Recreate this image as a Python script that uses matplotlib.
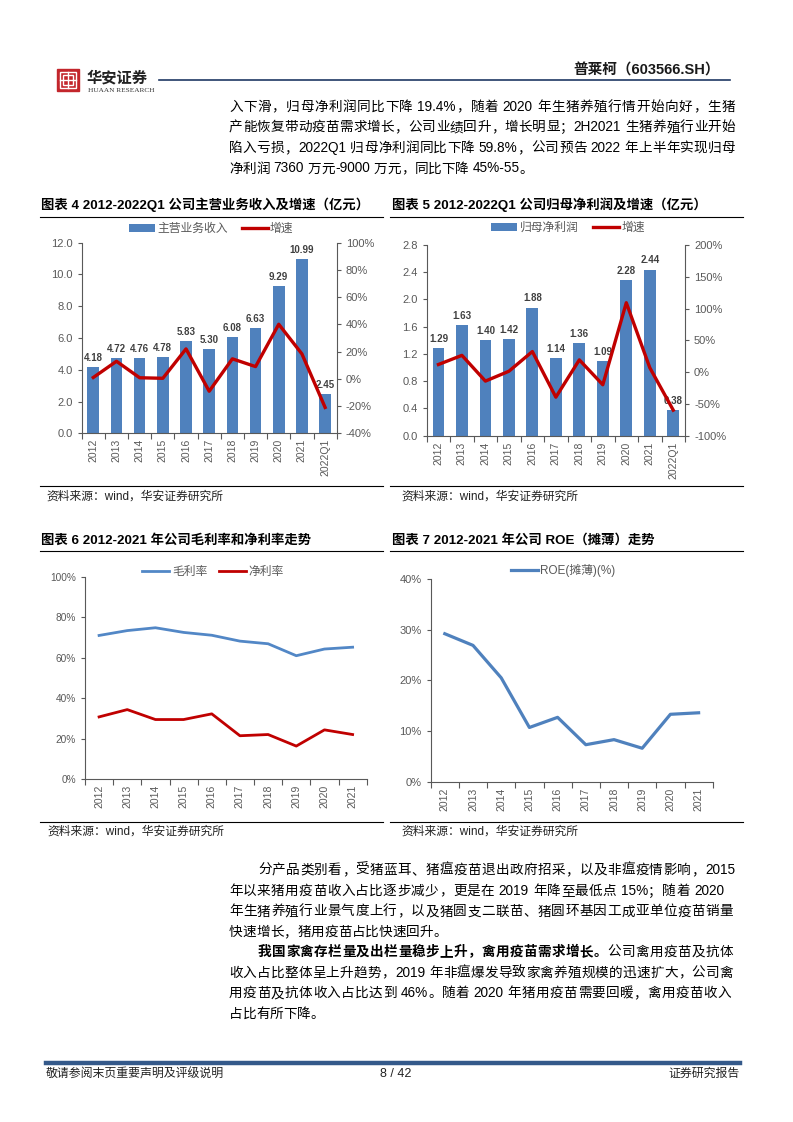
import re
import numpy as np
import matplotlib
matplotlib.use('Agg')
from matplotlib import pyplot as plt
from matplotlib.lines import Line2D
from matplotlib.patches import Rectangle
from matplotlib.ticker import FuncFormatter, FixedLocator

plt.rcParams['font.family'] = ['Liberation Sans', 'Noto Sans CJK SC']
plt.rcParams['axes.unicode_minus'] = False

# datos
years_q = ['2012', '2013', '2014', '2015', '2016', '2017', '2018', '2019', '2020', '2021', '2022Q1']
years = years_q[:-1]
revenue = [4.18, 4.72, 4.76, 4.78, 5.83, 5.30, 6.08, 6.63, 9.29, 10.99, 2.45]
revenue_growth = [1.0, 12.9, 0.8, 0.4, 22.0, -9.1, 14.7, 9.0, 40.1, 18.3, -21.0]
profit = [1.29, 1.63, 1.40, 1.42, 1.88, 1.14, 1.36, 1.09, 2.28, 2.44, 0.38]
profit_growth = [12.0, 26.4, -14.1, 1.4, 32.4, -39.4, 19.3, -19.9, 109.2, 7.0, -59.8]
gross_margin = [71.0, 73.4, 74.8, 72.5, 71.1, 68.2, 66.9, 61.0, 64.3, 65.2]
net_margin = [30.8, 34.4, 29.5, 29.5, 32.3, 21.5, 22.1, 16.4, 24.4, 22.1]
roe = [29.2, 26.9, 20.5, 10.7, 12.7, 7.3, 8.3, 6.6, 13.3, 13.6]

BLUE = '#4F81BD'
RED = '#C00000'
GRAY = '#595959'
W, H = 793, 1122
FS = 9.8

fig = plt.figure(figsize=(W / 100, H / 100), dpi=100)
renderer = fig.canvas.get_renderer()


def fx(x):
    return x / W


def fy(y):
    return 1 - y / H


def axes_px(l, t, r, b):
    return fig.add_axes([l / W, 1 - b / H, (r - l) / W, (b - t) / H])


def hline(x0, x1, y, lw=0.8, color='black'):
    fig.add_artist(Line2D([fx(x0), fx(x1)], [fy(y), fy(y)], transform=fig.transFigure,
                          lw=lw, color=color))


def txt(x, y, s, **kw):
    kw.setdefault('va', 'center')
    kw.setdefault('fontsize', FS)
    return fig.text(fx(x), fy(y), s, **kw)


def measure(s, weight='normal'):
    t = fig.text(0, 0, s, fontsize=FS, fontweight=weight)
    w = t.get_window_extent(renderer).width
    t.remove()
    return w


def para_line(x0, y, segments, target=None):
    # segments: lista de (texto, peso); si hay target se justifica la linea
    bar = measure('|')
    items = []
    offset = 0.0
    for s, wt in segments:
        for m in re.finditer(r'[A-Za-z0-9.%\-]+|\S', s):
            pos = measure(s[:m.start()] + '|', wt) - bar if m.start() > 0 else 0.0
            items.append((offset + pos, m.group(), wt))
        offset += measure(s + '|', wt) - bar
    gap = 0.0
    if target is not None and len(items) > 1:
        gap = (target - x0 - offset) / (len(items) - 1)
    for i, (pos, tok, wt) in enumerate(items):
        txt(x0 + pos + i * gap, y, tok, fontweight=wt)


def style_cat_axis(ax, labels):
    n = len(labels)
    ax.set_xlim(-0.5, n - 0.5)
    ax.set_xticks(range(n))
    ax.set_xticklabels(labels, rotation=90, fontsize=7.5, color=GRAY)
    ax.xaxis.set_minor_locator(FixedLocator(np.arange(-0.5, n, 1.0)))
    ax.tick_params(axis='x', which='major', length=0, pad=4)
    ax.tick_params(axis='x', which='minor', length=4, color=GRAY, width=0.8)
    for s in ['top', 'right']:
        ax.spines[s].set_visible(False)
    for s in ['left', 'bottom']:
        ax.spines[s].set_color(GRAY)
        ax.spines[s].set_linewidth(0.8)
    ax.tick_params(axis='y', length=3, color=GRAY, width=0.8, labelsize=8, labelcolor=GRAY)


pct = FuncFormatter(lambda v, p: f'{v:.0f}%')

# ---------- cabecera ----------
fig.add_artist(Rectangle((fx(57), fy(91)), 22 / W, 22 / H, transform=fig.transFigure,
                         color='#C3262C'))
fig.add_artist(Rectangle((fx(60), fy(88)), 16 / W, 16 / H, transform=fig.transFigure,
                         fill=False, ec='white', lw=1.0))
fig.add_artist(Rectangle((fx(63), fy(85)), 10 / W, 10 / H, transform=fig.transFigure,
                         fill=False, ec='white', lw=1.0))
fig.add_artist(Line2D([fx(68), fx(68)], [fy(72), fy(88)], transform=fig.transFigure, color='white', lw=1))
fig.add_artist(Line2D([fx(60), fx(76)], [fy(80), fy(80)], transform=fig.transFigure, color='white', lw=1))
txt(87, 77, '华安证券', fontsize=11, fontweight='bold', family='Noto Sans CJK SC', color='#222222')
txt(88, 91, 'HUAAN RESEARCH', fontsize=5.2, family='Liberation Serif', color='#333333')
hline(159, 730, 80, lw=1.2, color='#1F3864')
txt(720, 70, '普莱柯（603566.SH）', fontsize=10.5, fontweight='bold', ha='right', color='#1a1a1a')

para1 = ['入下滑，归母净利润同比下降 19.4%，随着 2020 年生猪养殖行情开始向好，生猪',
         '产能恢复带动疫苗需求增长，公司业绩回升，增长明显；2H2021 生猪养殖行业开始',
         '陷入亏损，2022Q1 归母净利润同比下降 59.8%，公司预告 2022 年上半年实现归母',
         '净利润 7360 万元-9000 万元，同比下降 45%-55。']
para1_end = [735, 735, 735, None]
for i, line in enumerate(para1):
    para_line(229, 106.7 + i * 20.6, [(line, 'normal')], para1_end[i])

# ---------- grafico 4 ----------
x = np.arange(len(years_q))
txt(41, 205, '图表 4 2012-2022Q1 公司主营业务收入及增速（亿元）', fontsize=9.6, fontweight='bold')
hline(40, 383, 216.5)
hline(40, 383, 486)
txt(46, 497, '资料来源：wind，华安证券研究所', fontsize=8.5, color='#222222')

ax = axes_px(81.7, 242.7, 336.7, 433.3)
bars = ax.bar(x, revenue, width=0.5, color=BLUE, label='主营业务收入')
ax.bar_label(bars, fmt='%.2f', padding=3, fontsize=7, fontweight='bold', color='#404040')
ax.set_ylim(0, 12)
ax.set_yticks(np.arange(0, 12.1, 2))
ax.yaxis.set_major_formatter(FuncFormatter(lambda v, p: f'{v:.1f}'))
style_cat_axis(ax, years_q)
ax2 = ax.twinx()
ln, = ax2.plot(x, revenue_growth, color=RED, lw=2.4, label='增速')
ax2.set_ylim(-40, 100)
ax2.set_yticks(np.arange(-40, 101, 20))
ax2.yaxis.set_major_formatter(pct)
for s in ['top', 'left', 'bottom']:
    ax2.spines[s].set_visible(False)
ax2.spines['right'].set_color(GRAY)
ax2.spines['right'].set_linewidth(0.8)
ax2.tick_params(axis='y', length=3, color=GRAY, width=0.8, labelsize=8, labelcolor=GRAY)
fig.legend([bars, ln], ['主营业务收入', '增速'], loc='center', ncol=2, frameon=False,
           bbox_to_anchor=(fx(211), fy(229)), fontsize=8.5, labelcolor=GRAY,
           handlelength=2.2, handleheight=0.6, columnspacing=1.2, handletextpad=0.2)

# ---------- grafico 5 ----------
txt(392, 205, '图表 5 2012-2022Q1 公司归母净利润及增速（亿元）', fontsize=9.6, fontweight='bold')
hline(390, 743, 216.5)
hline(390, 743, 486)
txt(401, 497, '资料来源：wind，华安证券研究所', fontsize=8.5, color='#222222')

ax = axes_px(426.7, 245, 685, 435.7)
bars = ax.bar(x, profit, width=0.5, color=BLUE)
ax.bar_label(bars, fmt='%.2f', padding=3, fontsize=7, fontweight='bold', color='#404040')
ax.set_ylim(0, 2.8)
ax.set_yticks(np.arange(0, 2.81, 0.4))
ax.yaxis.set_major_formatter(FuncFormatter(lambda v, p: f'{v:.1f}'))
style_cat_axis(ax, years_q)
ax2 = ax.twinx()
ln, = ax2.plot(x, profit_growth, color=RED, lw=2.4)
ax2.set_ylim(-100, 200)
ax2.set_yticks(np.arange(-100, 201, 50))
ax2.yaxis.set_major_formatter(pct)
for s in ['top', 'left', 'bottom']:
    ax2.spines[s].set_visible(False)
ax2.spines['right'].set_color(GRAY)
ax2.spines['right'].set_linewidth(0.8)
ax2.tick_params(axis='y', length=3, color=GRAY, width=0.8, labelsize=8, labelcolor=GRAY)
fig.legend([bars, ln], ['归母净利润', '增速'], loc='center', ncol=2, frameon=False,
           bbox_to_anchor=(fx(568), fy(228)), fontsize=8.5, labelcolor=GRAY,
           handlelength=2.2, handleheight=0.6, columnspacing=1.2, handletextpad=0.2)

# ---------- grafico 6 ----------
xs = np.arange(len(years))
txt(41, 540, '图表 6 2012-2021 年公司毛利率和净利率走势', fontsize=9.6, fontweight='bold')
hline(40, 383, 551)
hline(40, 383, 821.7)
txt(47, 832, '资料来源：wind，华安证券研究所', fontsize=8.5, color='#222222')

ax = axes_px(85, 576.7, 366.7, 779.3)
l1, = ax.plot(xs, gross_margin, color='#5287C6', lw=2.0)
l2, = ax.plot(xs, net_margin, color=RED, lw=2.0)
ax.set_ylim(0, 100)
ax.set_yticks(np.arange(0, 101, 20))
ax.yaxis.set_major_formatter(pct)
style_cat_axis(ax, years)
ax.tick_params(axis='y', labelsize=7.3)
fig.legend([l1, l2], ['毛利率', '净利率'], loc='center', ncol=2, frameon=False,
           bbox_to_anchor=(fx(213), fy(571.7)), fontsize=8.5, labelcolor=GRAY,
           handlelength=2.3, columnspacing=1.0, handletextpad=0.2)

# ---------- grafico 7 ----------
txt(392, 540, '图表 7 2012-2021 年公司 ROE（摊薄）走势', fontsize=9.6, fontweight='bold')
hline(390, 743, 551)
hline(390, 743, 821.7)
txt(401, 832, '资料来源：wind，华安证券研究所', fontsize=8.5, color='#222222')

ax = axes_px(430.7, 579, 712.7, 781.7)
l3, = ax.plot(xs, roe, color=BLUE, lw=2.3)
ax.set_ylim(0, 40)
ax.set_yticks(np.arange(0, 41, 10))
ax.yaxis.set_major_formatter(pct)
style_cat_axis(ax, years)
fig.legend([l3], ['ROE(摊薄)(%)'], loc='center', frameon=False,
           bbox_to_anchor=(fx(563), fy(570.7)), fontsize=8.5, labelcolor=GRAY,
           handlelength=2.3, handletextpad=0.2)

# ---------- texto inferior ----------
para_line(258, 870, [('分产品类别看，受猪蓝耳、猪瘟疫苗退出政府招采，以及非瘟疫情影响，2015', 'normal')], 735)
para2 = ['年以来猪用疫苗收入占比逐步减少，更是在 2019 年降至最低点 15%；随着 2020',
         '年生猪养殖行业景气度上行，以及猪圆支二联苗、猪圆环基因工成亚单位疫苗销量',
         '快速增长，猪用疫苗占比快速回升。']
para2_end = [724, 733, None]
for i, line in enumerate(para2):
    para_line(229, 890.8 + i * 20.6, [(line, 'normal')], para2_end[i])

para_line(258, 952, [('我国家禽存栏量及出栏量稳步上升，禽用疫苗需求增长。', 'bold'),
                     ('公司禽用疫苗及抗体', 'normal')], 733)
para3 = ['收入占比整体呈上升趋势，2019 年非瘟爆发导致家禽养殖规模的迅速扩大，公司禽',
         '用疫苗及抗体收入占比达到 46%。随着 2020 年猪用疫苗需要回暖，禽用疫苗收入',
         '占比有所下降。']
para3_end = [733, 731, None]
for i, line in enumerate(para3):
    para_line(229, 972.6 + i * 20.6, [(line, 'normal')], para3_end[i])

# ---------- pie de pagina ----------
hline(46, 740, 1063.3, lw=3.2, color='#34598A')
txt(46, 1074, '敬请参阅末页重要声明及评级说明', fontsize=8.6, color='#222222')
txt(396, 1074, '8 / 42', fontsize=9, ha='center', color='#222222')
txt(740, 1074, '证券研究报告', fontsize=8.6, ha='right', color='#222222')

fig.savefig('out.png', dpi=100)
